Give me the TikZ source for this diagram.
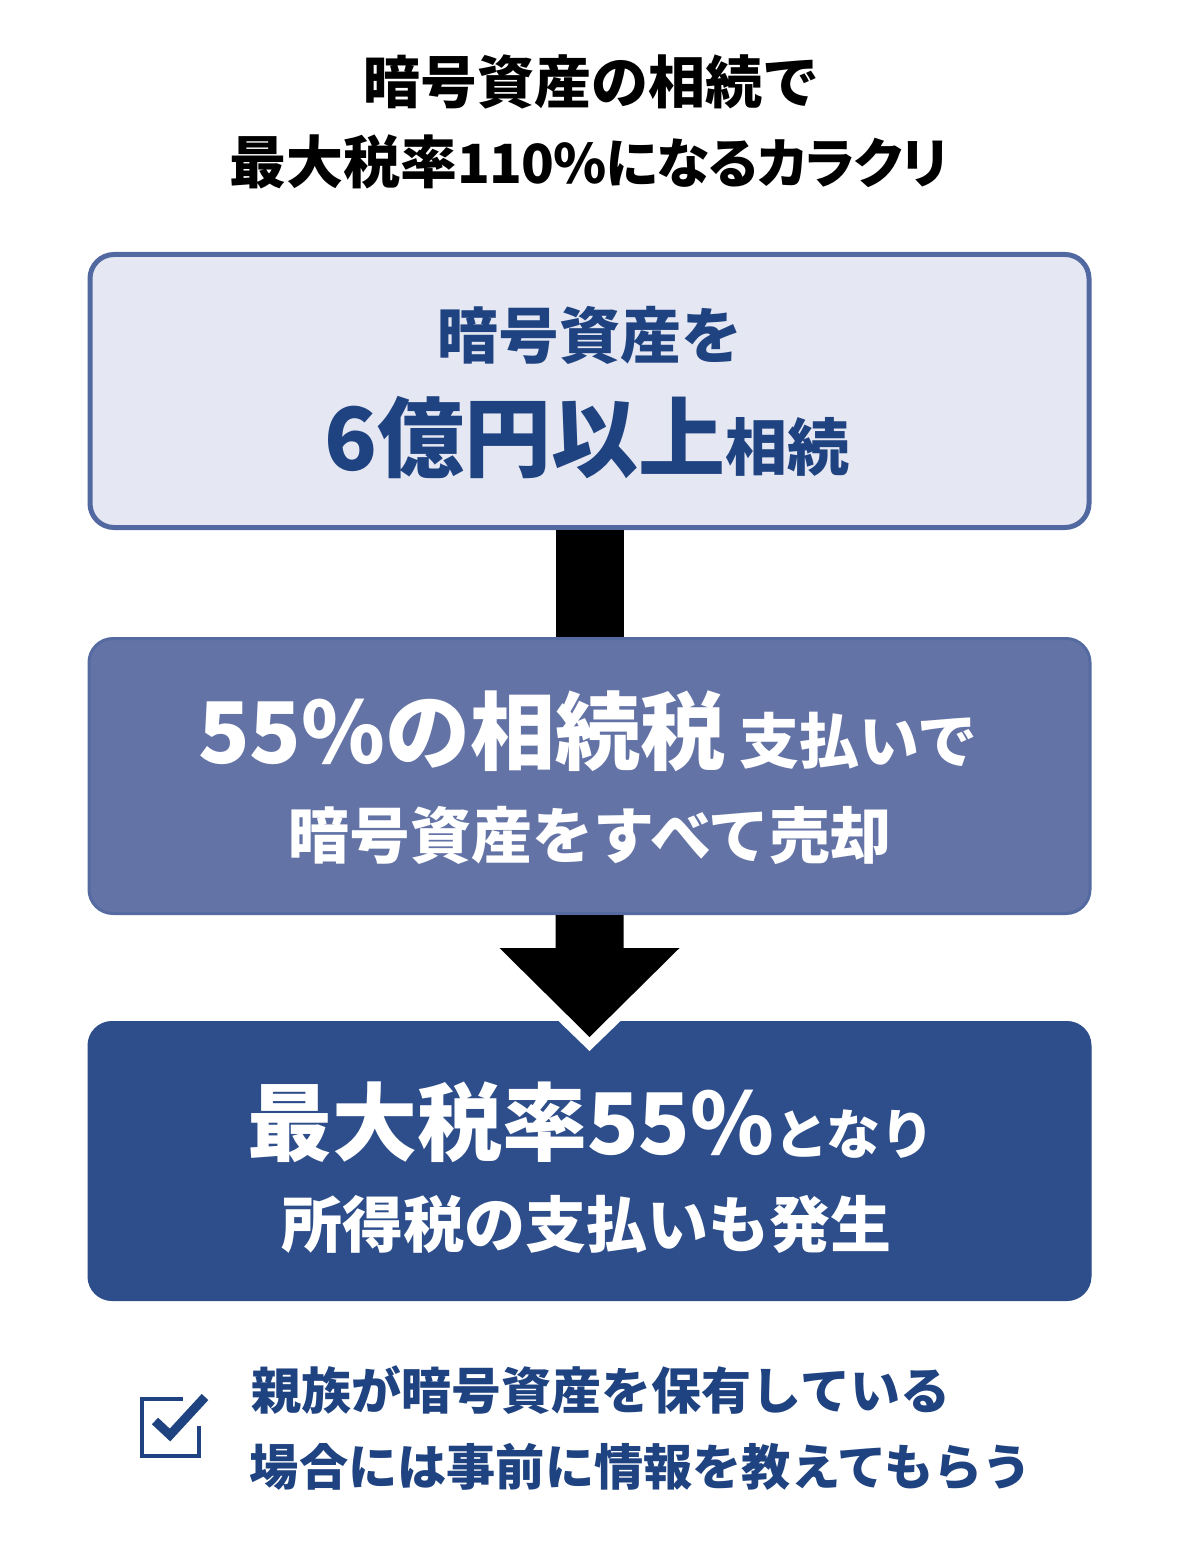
\documentclass[tikz,border=0pt]{standalone}
\usepackage{fontspec}
\setmainfont{Noto Sans CJK JP}
\newfontfamily\paltfont{Noto Sans CJK JP}[RawFeature=+palt,LetterSpace=-2]
\newcommand{\fs}[1]{\fontsize{#1}{#1}\selectfont}
\definecolor{navy}{HTML}{2D4E8A}
\definecolor{midblue}{HTML}{6473A6}
\definecolor{midedge}{HTML}{546AA0}
\definecolor{paleblue}{HTML}{E5E8F3}
\definecolor{paleedge}{HTML}{5169A0}
\definecolor{txtblue}{HTML}{1F4280}
\tikzset{
  panel/.style={rounded corners=24pt,inner sep=0pt,anchor=north west},
  lbl/.style={inner sep=0pt,anchor=base,font=\bfseries},
  chk/.style={draw=txtblue}
}
\begin{document}
\begin{tikzpicture}[x=1pt,y=-1pt]
\useasboundingbox (0,0) rectangle (1200,1546);
\fill[white] (0,0) rectangle (1200,1546);
% panels
\node[panel,fill=paleblue,draw=paleedge,line width=5pt,minimum width=999pt,minimum height=273pt] (b1) at (87.5,252) {};
\node[panel,fill=midblue,draw=midedge,line width=3pt,minimum width=1001pt,minimum height=275pt] (b2) at (87.5,637) {};
\node[panel,fill=navy,draw=navy,line width=1pt,minimum width=1003pt,minimum height=279pt] (b3) at (87.5,1021) {};
% connector 1
\fill[black] ([xshift=-34pt]b1.south) rectangle ([xshift=34pt]b2.north);
% connector 2 with white halo over panel 3
\fill[white] (b3.north) ++(-31,0) -- ++(31,30) -- ++(31,-30) -- cycle;
\coordinate (a2s) at (b2.south);
\fill[black] ([xshift=-34pt]a2s) -- ([xshift=-34pt,yshift=-33pt]a2s)
  -- ([xshift=-90pt,yshift=-33pt]a2s) -- ([yshift=-122pt]a2s)
  -- ([xshift=90pt,yshift=-33pt]a2s) -- ([xshift=34pt,yshift=-33pt]a2s)
  -- ([xshift=34pt]a2s) -- cycle;
% title
\node[lbl] (t1) at (591,104) {\fs{57}暗号資産の相続で};
\node[lbl] (t2) at (589,184) {\fs{57}最大税率\fs{54}\paltfont\bfseries 110\%になるカラクリ};
% panel 1
\node[lbl,text=txtblue] (p1a) at (590,358) {\fs{61}暗号資産を};
\node[lbl,text=txtblue] (p1b) at (587,470) {\fs{87}6億円以上\fs{62}相続};
% panel 2
\node[lbl,text=white] (p2a) at (588,763) {\fs{85}55\%の相続税\hspace{14pt}\fs{60}支払いで};
\node[lbl,text=white] (p2b) at (590,858) {\fs{61}暗号資産をすべて売却};
% panel 3
\node[lbl,text=white] (p3a) at (591,1154) {\fs{85}最大税率55\%\fs{54}となり};
\node[lbl,text=white] (p3b) at (586,1247) {\fs{61}所得税の支払いも発生};
% note
\node[lbl,text=txtblue] (n1) at (601,1409) {\fs{50}親族が暗号資産を保有している};
\node[lbl,text=txtblue] (n2) at (641,1485) {\fs{49.2}場合には事前に情報を教えてもらう};
% check box
\draw[chk,line width=4pt] (183,1399) -- (142,1399) -- (142,1456) -- (199,1456) -- (199,1426);
\draw[chk,line width=9pt] (155,1421) -- (170,1435) -- (205,1397);
\end{tikzpicture}
\end{document}
